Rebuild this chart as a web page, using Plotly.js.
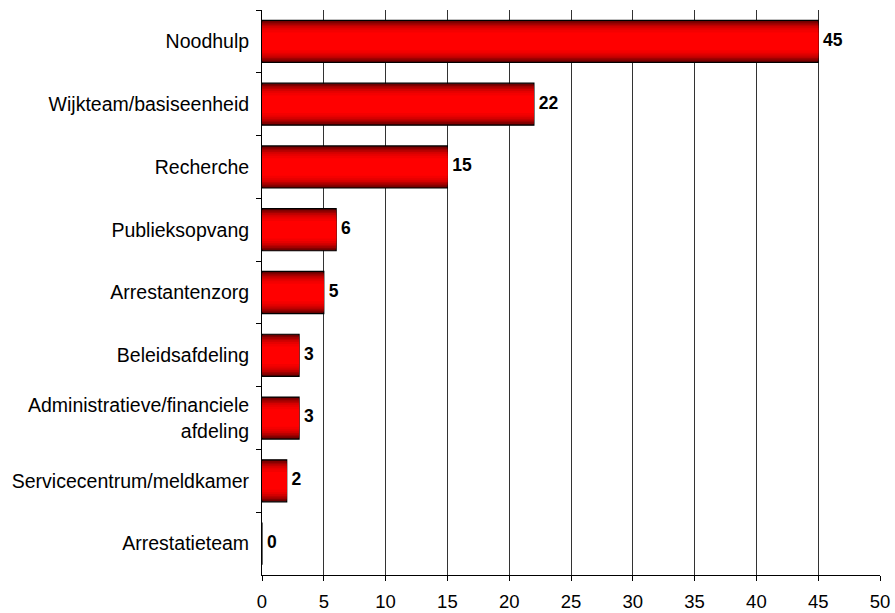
<!DOCTYPE html>
<html>
<head>
<meta charset="utf-8">
<script src="https://cdn.plot.ly/plotly-3.0.1.min.js"></script>
<style>html,body{margin:0;padding:0;background:#fff;}#chart{width:895px;height:613px;}</style>
</head>
<body>
<div id="chart"></div>
<script>
const categories = [
  "Noodhulp",
  "Wijkteam/basiseenheid",
  "Recherche",
  "Publieksopvang",
  "Arrestantenzorg",
  "Beleidsafdeling",
  "Administratieve/financiele<br>afdeling",
  "Servicecentrum/meldkamer",
  "Arrestatieteam"
];
const values = [45, 22, 15, 6, 5, 3, 3, 2, 0];
const valueLabels = ["45", "22", "15", "6", "5", "3", "3", "2", "0"];

// gradient layers (outer -> inner): width fraction and colour
const layers = [
  {w: 0.67, c: "#600000"},
  {w: 0.63, c: "#800000"},
  {w: 0.58, c: "#a00000"},
  {w: 0.53, c: "#bc0000"},
  {w: 0.48, c: "#d40000"},
  {w: 0.42, c: "#e60000"},
  {w: 0.36, c: "#f40000"},
  {w: 0.28, c: "#ff0000"}
];

const traces = layers.map((L, i) => ({
  type: "bar",
  orientation: "h",
  x: values,
  y: categories,
  width: L.w,
  marker: {color: L.c, line: {width: i === 0 ? 1.2 : 0, color: "#000"}},
  hoverinfo: "skip",
  showlegend: false
}));

traces.push({
  type: "scatter",
  mode: "text",
  x: values,
  y: categories,
  text: valueLabels.map(t => "\u00a0<b>" + t + "</b>"),
  textposition: "middle right",
  textfont: {family: "Liberation Sans, Arial, sans-serif", size: 17.5, color: "#000"},
  cliponaxis: false,
  showlegend: false,
  hoverinfo: "skip"
});

const layout = {
  width: 895,
  height: 613,
  margin: {l: 262, r: 15, t: 10, b: 38},
  paper_bgcolor: "#fff",
  plot_bgcolor: "#fff",
  barmode: "overlay",
  font: {family: "Liberation Sans, Arial, sans-serif", size: 18, color: "#000"},
  xaxis: {
    range: [0, 50],
    dtick: 5,
    tick0: 0,
    showgrid: true,
    gridcolor: "#333",
    gridwidth: 1,
    zeroline: false,
    showline: true,
    linecolor: "#000",
    linewidth: 1,
    ticks: "outside",
    ticklen: 5,
    tickcolor: "#000",
    tickfont: {size: 18.5},
    ticklabelstandoff: 5,
    fixedrange: true
  },
  yaxis: {
    type: "category",
    autorange: "reversed",
    showgrid: false,
    zeroline: false,
    showline: true,
    linecolor: "#000",
    linewidth: 1,
    ticks: "outside",
    tickson: "boundaries",
    ticklen: 5,
    tickcolor: "#000",
    tickfont: {size: 19.5},
    ticklabelstandoff: 8,
    fixedrange: true
  }
};

Plotly.newPlot("chart", traces, layout, {displayModeBar: false, staticPlot: true});
</script>
</body>
</html>
